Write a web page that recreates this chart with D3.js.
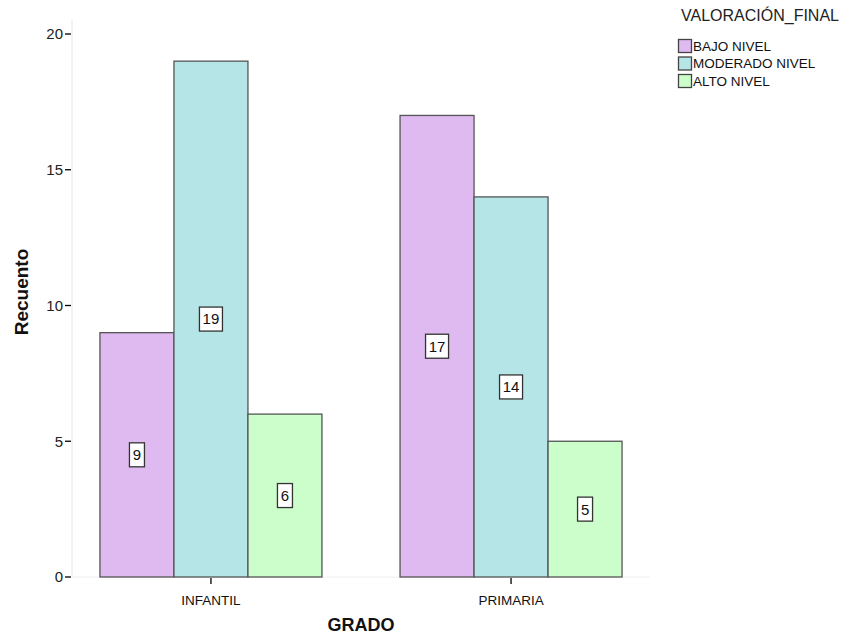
<!DOCTYPE html>
<html><head><meta charset="utf-8">
<script src="https://cdn.jsdelivr.net/npm/d3@7"></script>
<style>body{margin:0;background:#fff}svg{display:block;font-family:"Liberation Sans",Arial,sans-serif}</style>
</head><body><svg id="c" width="841" height="637"></svg>
<script>
const categories = ["INFANTIL", "PRIMARIA"];
const series = ["BAJO NIVEL", "MODERADO NIVEL", "ALTO NIVEL"];
const values = {
  "BAJO NIVEL": [9, 17],
  "MODERADO NIVEL": [19, 14],
  "ALTO NIVEL": [6, 5]
};
const colors = ["#dfbaf1", "#b5e5e7", "#ccfecb"];
const yTicks = [0, 5, 10, 15, 20];

(function () {
const svg = d3.select("#c");
const pl = 72, pr = 650, pt = 20, pb = 577;
const y = d3.scaleLinear().domain([0, 20]).range([pb, 34]);
const x = d3.scalePoint().domain(categories).range([pl, pr]).padding(0.463);
const inner = d3.scaleBand().domain(series).range([-111, 111]).padding(0);

svg.append("line").attr("x1", pl).attr("x2", pl).attr("y1", pt).attr("y2", pb).attr("stroke", "#e6e6e6");
svg.append("line").attr("x1", pl).attr("x2", pr).attr("y1", pb).attr("y2", pb).attr("stroke", "#eeeeee");

const yAxis = svg.append("g");
yTicks.forEach(t => {
  yAxis.append("line").attr("x1", pl - 7).attr("x2", pl - 1).attr("y1", y(t)).attr("y2", y(t)).attr("stroke", "#000").attr("stroke-width", 1.3);
  yAxis.append("text").attr("x", pl - 9).attr("y", y(t)).attr("dy", "0.35em").attr("text-anchor", "end")
    .attr("font-size", 15).attr("fill", "#222").text(t);
});

categories.forEach(c => {
  svg.append("line").attr("x1", x(c)).attr("x2", x(c)).attr("y1", pb + 1).attr("y2", pb + 7).attr("stroke", "#000").attr("stroke-width", 1.3);
  svg.append("text").attr("x", x(c)).attr("y", 605).attr("text-anchor", "middle").attr("font-size", 13.5).attr("fill", "#111").text(c);
});

series.forEach((s, si) => {
  categories.forEach((c, ci) => {
    const v = values[s][ci];
    const x0 = x(c) + inner(s);
    svg.append("rect").attr("x", x0).attr("y", y(v)).attr("width", inner.bandwidth()).attr("height", pb - y(v))
      .attr("fill", colors[si]).attr("stroke", "#555").attr("stroke-width", 1.3);
  });
});
series.forEach((s, si) => {
  categories.forEach((c, ci) => {
    const v = values[s][ci];
    const cx = x(c) + inner(s) + inner.bandwidth() / 2;
    const cy = y(v / 2);
    const w = String(v).length > 1 ? 23 : 15;
    svg.append("rect").attr("x", cx - w / 2).attr("y", cy - 12).attr("width", w).attr("height", 24)
      .attr("fill", "#fff").attr("stroke", "#333").attr("stroke-width", 1.3);
    svg.append("text").attr("x", cx).attr("y", cy).attr("dy", "0.36em").attr("text-anchor", "middle")
      .attr("font-size", 15).attr("fill", "#111").text(v);
  });
});

svg.append("text").attr("transform", `translate(28,292) rotate(-90)`).attr("text-anchor", "middle")
  .attr("font-size", 19).attr("font-weight", "bold").attr("fill", "#111").text("Recuento");
svg.append("text").attr("x", 361).attr("y", 631).attr("text-anchor", "middle")
  .attr("font-size", 18).attr("font-weight", "bold").attr("fill", "#111").text("GRADO");

const lg = svg.append("g");
lg.append("text").attr("x", 681).attr("y", 21).attr("font-size", 16).attr("fill", "#222").text("VALORACIÓN_FINAL");
series.forEach((s, i) => {
  const yy = 46 + i * 17.5;
  lg.append("rect").attr("x", 678.5).attr("y", yy - 6.5).attr("width", 13).attr("height", 13)
    .attr("fill", colors[i]).attr("stroke", "#444").attr("stroke-width", 1.3);
  lg.append("text").attr("x", 693).attr("y", yy).attr("dy", "0.36em").attr("font-size", 13.5).attr("fill", "#111").text(s);
});
})();
</script></body></html>
